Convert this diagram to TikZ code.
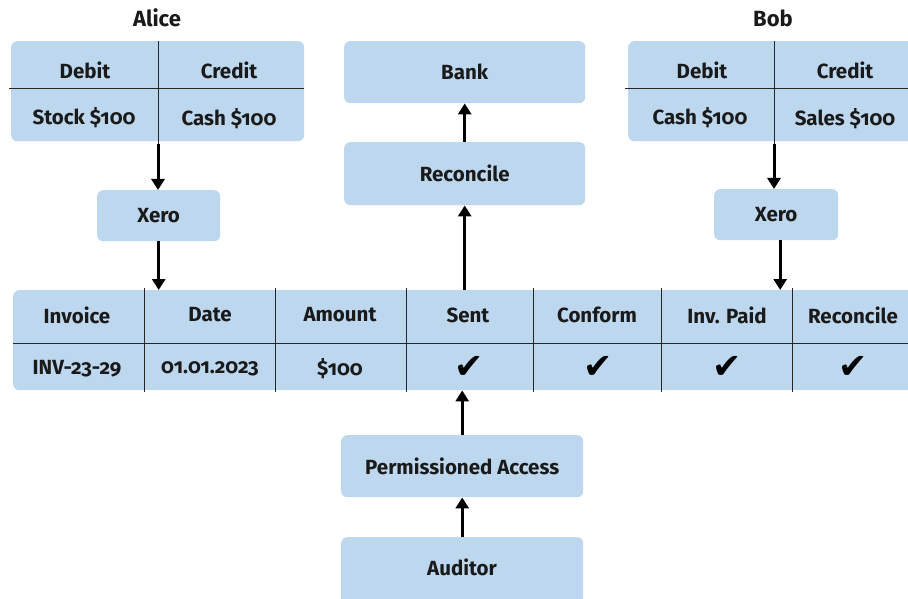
\documentclass[tikz,border=0pt]{standalone}
\usepackage{fontspec}
\setmainfont{Fira Sans}[Numbers=OldStyle]
\newfontfamily\checkfont{DejaVu Sans}
\usetikzlibrary{arrows.meta}
\definecolor{boxblue}{HTML}{BDD7EE}
\definecolor{inkc}{HTML}{1A1A1A}
\tikzset{
  box/.style={fill=boxblue, rounded corners=6pt, draw=none, inner sep=0pt, anchor=north west},
  lbl/.style={font=\bfseries\fontsize{20.5}{22}\selectfont, text=inkc, inner sep=0pt},
  ttl/.style={font=\bfseries\fontsize{22}{24}\selectfont, text=inkc, inner sep=0pt},
  chk/.style={font=\checkfont\fontsize{35}{37}\selectfont, text=black, inner sep=0pt},
  arr/.style={line width=3pt, draw=black, -{Triangle[width=13pt,length=11pt]}},
  divl/.style={line width=1pt, draw=black!85},
}
\begin{document}
\begin{tikzpicture}[x=1pt,y=-1pt]
\clip (0,0) rectangle (908,599);
\useasboundingbox (0,0) rectangle (908,599);

% ---- Alice T-account
\node[ttl] (alice) at (157,18) {Alice};
\node[box, minimum width=293pt, minimum height=100pt] (abox) at (11,41) {};
\coordinate (adivtop) at (158,41);
\coordinate (adivbot) at (158,144);
\coordinate (ahl) at (9,89);
\coordinate (ahr) at (304,89);
\draw[divl] (adivtop) -- (adivbot);
\draw[divl] (ahl) -- (ahr);
\node[lbl] (adeb) at (85,70) {Debit};
\node[lbl] (acre) at (229,70) {Credit};
\node[lbl] (astock) at (84,118) {Stock \$100};
\node[lbl] (acash) at (229,119) {Cash \$100};

% ---- Bob T-account
\node[ttl] (bob) at (773,18) {Bob};
\node[box, minimum width=292pt, minimum height=100pt] (bbox) at (628,41) {};
\coordinate (bdivtop) at (774,41);
\coordinate (bdivbot) at (774,144);
\coordinate (bhl) at (625,89);
\coordinate (bhr) at (920,89);
\draw[divl] (bdivtop) -- (bdivbot);
\draw[divl] (bhl) -- (bhr);
\node[lbl] (bdeb) at (702,70) {Debit};
\node[lbl] (bcre) at (845,70) {Credit};
\node[lbl] (bcash) at (700,118) {Cash \$100};
\node[lbl] (bsales) at (845,119) {Sales \$100};

% ---- Xero boxes
\node[box, minimum width=123pt, minimum height=51pt] (xeroA) at (97,190) {};
\node[lbl] at (xeroA.center) {Xero};
\node[box, minimum width=124pt, minimum height=51pt] (xeroB) at (714,189) {};
\node[lbl] at (xeroB.center) {Xero};

% ---- Bank / Reconcile
\node[box, minimum width=241pt, minimum height=62pt] (bank) at (344,41) {};
\node[lbl] at (bank.center) {Bank};
\node[box, minimum width=241pt, minimum height=63pt] (rec) at (344,142) {};
\node[lbl] at (rec.center) {Reconcile};

% ---- Main table
\node[box, minimum width=920pt, minimum height=100pt] (tbl) at (13,290) {};
\coordinate (thl) at (13,343);
\coordinate (thr) at (930,343);
\draw[divl] (thl) -- (thr);
\foreach \x/\n in {144/c1,275/c2,406/c3,533/c4,661/c5,792/c6}{
  \coordinate (\n t) at (\x,288);
  \coordinate (\n b) at (\x,392);
  \draw[divl] (\n t) -- (\n b);
}
\node[lbl] (hinv) at (77,315) {Invoice};
\node[lbl] (hdate) at (210,315) {Date};
\node[lbl] (hamt) at (340,315) {Amount};
\node[lbl] (hsent) at (468,315) {Sent};
\node[lbl] (hconf) at (597,315) {Conform};
\node[lbl] (hpaid) at (727,315) {Inv. Paid};
\node[lbl] (hrec) at (853,315) {Reconcile};
\node[lbl] (vinv) at (77,369) {INV-23-29};
\node[lbl] (vdate) at (210,369) {01.01.2023};
\node[lbl] (vamt) at (340,369) {\$100};
\node[chk] (ksent) at (469,367) {✔};
\node[chk] (kconf) at (598,367) {✔};
\node[chk] (kpaid) at (727,367) {✔};
\node[chk] (krec) at (853,367) {✔};

% ---- Permissioned Access / Auditor
\node[box, minimum width=242pt, minimum height=62pt] (perm) at (341,435) {};
\node[lbl] at (perm.center) {Permissioned Access};
\node[box, minimum width=242pt, minimum height=70pt] (aud) at (341,537) {};
\node[lbl] (audl) at (462,567) {Auditor};

% ---- Arrows
\draw[arr] (adivbot) -- (adivbot |- xeroA.north);
\draw[arr] (xeroA.south) -- (xeroA.south |- tbl.north);
\draw[arr] (bdivbot) -- (bdivbot |- xeroB.north);
\coordinate (xbo) at ([xshift=4pt]xeroB.south);
\draw[arr] (xbo) -- (xbo |- tbl.north);
\draw[arr] (rec.north) -- (bank.south);
\draw[arr] (rec.south |- tbl.north) -- (rec.south);
\draw[arr] (perm.north) -- (perm.north |- tbl.south);
\draw[arr] (aud.north) -- (perm.south);
\end{tikzpicture}
\end{document}
